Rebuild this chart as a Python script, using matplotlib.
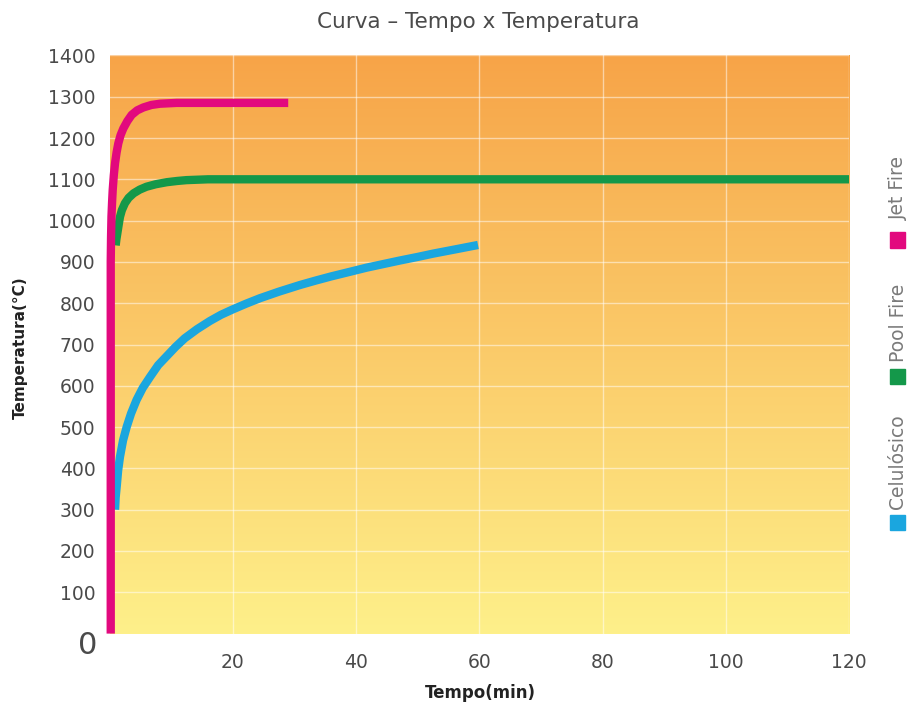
import numpy as np
import matplotlib
matplotlib.use('Agg')
from matplotlib import pyplot as plt
from matplotlib.patches import Rectangle

# valores (tempo em min, temperatura em °C)
jet_t = [0.2, 0.2, 0.25, 0.32, 0.42, 0.52, 0.7, 0.9, 1.15, 1.43, 1.8, 2.24, 2.9, 3.6, 4.5, 5.5, 6.8, 8.2, 10.9, 29]
jet_T = [0, 900, 960, 1010, 1045, 1074, 1110, 1139, 1165, 1187, 1207, 1223, 1241, 1256, 1267, 1274, 1280, 1283, 1285, 1285]

pool_t = [1.0, 1.12, 1.27, 1.5, 1.7, 2.0, 2.5, 3.1, 3.9, 4.9, 6.0, 7.5, 9.3, 11, 12.5, 16, 120]
pool_T = [940, 955, 969, 991, 1009, 1025, 1042, 1055, 1066, 1075, 1082, 1088, 1093, 1096, 1098, 1100, 1100]

cel_t = [0.9, 1.0, 1.17, 1.4, 1.7, 2.2, 2.8, 3.5, 4.4, 5.4, 6.6, 7.9, 9.3, 10.7, 12.2, 14.2, 16.3,
         18.1, 20, 22.2, 24.4, 27.5, 30.9, 33.5, 36, 39, 41.7, 44.5, 47, 50, 52.5, 56, 59.8]
cel_T = [300, 330, 356, 395, 428, 468, 501, 533, 566, 595, 622, 650, 672, 694, 715, 737, 757,
         772, 785, 799, 812, 828, 844, 855, 865, 876, 886, 895, 903, 912, 920, 930, 941]

x_ticks = [20, 40, 60, 80, 100, 120]
y_ticks = [100, 200, 300, 400, 500, 600, 700, 800, 900, 1000, 1100, 1200, 1300, 1400]

series = [
    ('Jet Fire', jet_t, jet_T, '#e2097e'),
    ('Pool Fire', pool_t, pool_T, '#14984a'),
    ('Celulósico', cel_t, cel_T, '#1aa6df'),
]

fig = plt.figure(figsize=(9.07, 7.05), dpi=100)
W, H = 907, 705
left, right, top, bottom = 109.5, 849, 55.4, 633.6
ax = fig.add_axes([left / W, 1 - bottom / H, (right - left) / W, (bottom - top) / H])

# fundo em degradê (laranja em cima, amarelo embaixo)
top_c = np.array([247, 164, 72]) / 255
bot_c = np.array([254, 240, 138]) / 255
g = np.linspace(0, 1, 256)[:, None]
grad = bot_c * (1 - g) + top_c * g
ax.imshow(grad[:, None, :].repeat(2, axis=1), aspect='auto', extent=[0, 120, 0, 1400],
          origin='lower', zorder=0)

ax.set_xlim(0, 120)
ax.set_ylim(0, 1400)
ax.set_xticks(x_ticks)
ax.set_yticks(y_ticks)
ax.grid(True, color='white', alpha=0.5, lw=1.0, zorder=1)
ax.tick_params(length=0, labelsize=13.5, colors='#4a4a4a', pad=10)
ax.tick_params(axis='x', pad=14)
for s in ax.spines.values():
    s.set_visible(False)
ax.set_axisbelow(True)

for name, t, T, c in series[::-1]:
    ax.plot(t, T, color=c, lw=6, solid_capstyle='butt', solid_joinstyle='round',
            zorder=3, clip_on=False)

ax.text(-2.0, -30, '0', ha='right', va='center', fontsize=22, color='#4a4a4a')

fig.text(478 / W, 1 - 22 / H, 'Curva – Tempo x Temperatura', ha='center', va='center',
         fontsize=15.5, color='#4a4a4a')
fig.text(480 / W, 1 - 693 / H, 'Tempo(min)', ha='center', va='center',
         fontsize=12, fontweight='bold', color='#222222')
fig.text(20 / W, 1 - 348 / H, 'Temperatura(°C)', ha='center', va='center', rotation=90,
         fontsize=11, fontweight='bold', color='#222222')

# legenda vertical à direita
leg = [('Jet Fire', 188, 240), ('Pool Fire', 323, 377), ('Celulósico', 462, 522)]
cols = {n: c for n, _, _, c in series}
for name, ty, sy in leg:
    fig.text(898 / W, 1 - ty / H, name, ha='center', va='center', rotation=90,
             fontsize=13.5, color='#7a7a7a')
    fig.patches.append(Rectangle((890 / W, 1 - (sy + 7.5) / H), 15 / W, 15 / H,
                                 transform=fig.transFigure, color=cols[name], figure=fig))

fig.savefig('out.png', dpi=100)
